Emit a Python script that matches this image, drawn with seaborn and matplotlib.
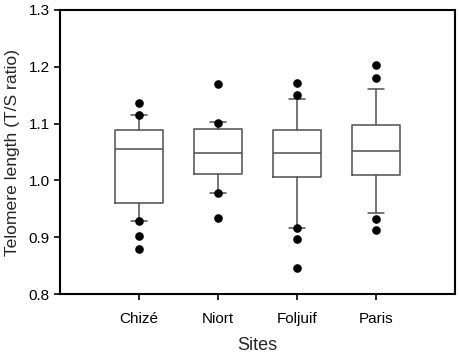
import pandas as pd
import matplotlib.pyplot as plt
import seaborn as sns

# Box summary values (T/S ratio)
sites = ["Chizé", "Niort", "Foljuif", "Paris"]
q1 = [0.960, 1.011, 1.006, 1.010]
med = [1.055, 1.049, 1.048, 1.052]
q3 = [1.088, 1.091, 1.089, 1.098]
whis_lo = [0.929, 0.977, 0.917, 0.943]
whis_hi = [1.115, 1.102, 1.143, 1.161]

# Outlying points per site
out_chize = [1.137, 1.115, 0.929, 0.902, 0.879]
out_niort = [1.169, 1.101, 0.977, 0.934]
out_foljuif = [1.172, 1.150, 0.917, 0.896, 0.846]
out_paris = [1.203, 1.180, 0.932, 0.912]

outliers = [out_chize, out_niort, out_foljuif, out_paris]

sns.set_style("ticks")
plt.rcParams["font.family"] = ["Liberation Sans", "DejaVu Sans"]

fig = plt.figure(figsize=(4.59, 3.53), dpi=100)
ax = fig.add_axes([0.1307, 0.1671, 0.8606, 0.8046])

# Boxes (whiskers at 10th/90th percentile, SigmaPlot style)
stats = []
for i, s in enumerate(sites):
    stats.append({"label": s, "q1": q1[i], "med": med[i], "q3": q3[i],
                  "whislo": whis_lo[i], "whishi": whis_hi[i], "fliers": []})

line_col = "#505050"
ax.bxp(stats, positions=range(len(sites)), widths=0.6, capwidths=0.21,
       showfliers=False, patch_artist=False,
       boxprops=dict(color=line_col, linewidth=1.1),
       medianprops=dict(color=line_col, linewidth=1.1),
       whiskerprops=dict(color=line_col, linewidth=1.1),
       capprops=dict(color=line_col, linewidth=1.1))

# Outlier points
df = pd.DataFrame({
    "Sites": [s for s, o in zip(sites, outliers) for _ in o],
    "TS": [v for o in outliers for v in o],
})
sns.stripplot(data=df, x="Sites", y="TS", order=sites, jitter=False,
              color="black", size=6.2, ax=ax, zorder=3)

ax.set_xlim(-1, 4)
ax.set_ylim(0.8, 1.3)
ax.set_yticks([0.8, 0.9, 1.0, 1.1, 1.2, 1.3])
ax.set_yticklabels(["0.8", "0.9", "1.0", "1.1", "1.2", "1.3"])
ax.set_xticks(range(len(sites)))
ax.set_xticklabels(sites)
ax.tick_params(axis="both", direction="out", length=4, width=1.2,
               labelsize=11, colors="black")
ax.tick_params(axis="x", pad=9)
for sp in ax.spines.values():
    sp.set_visible(True)
    sp.set_linewidth(1.5)
    sp.set_color("black")

ax.set_xlabel("Sites", fontsize=13, labelpad=8)
ax.set_ylabel("Telomere length (T/S ratio)", fontsize=12.6, labelpad=6)

fig.savefig("out.png", dpi=100)
plt.close()
